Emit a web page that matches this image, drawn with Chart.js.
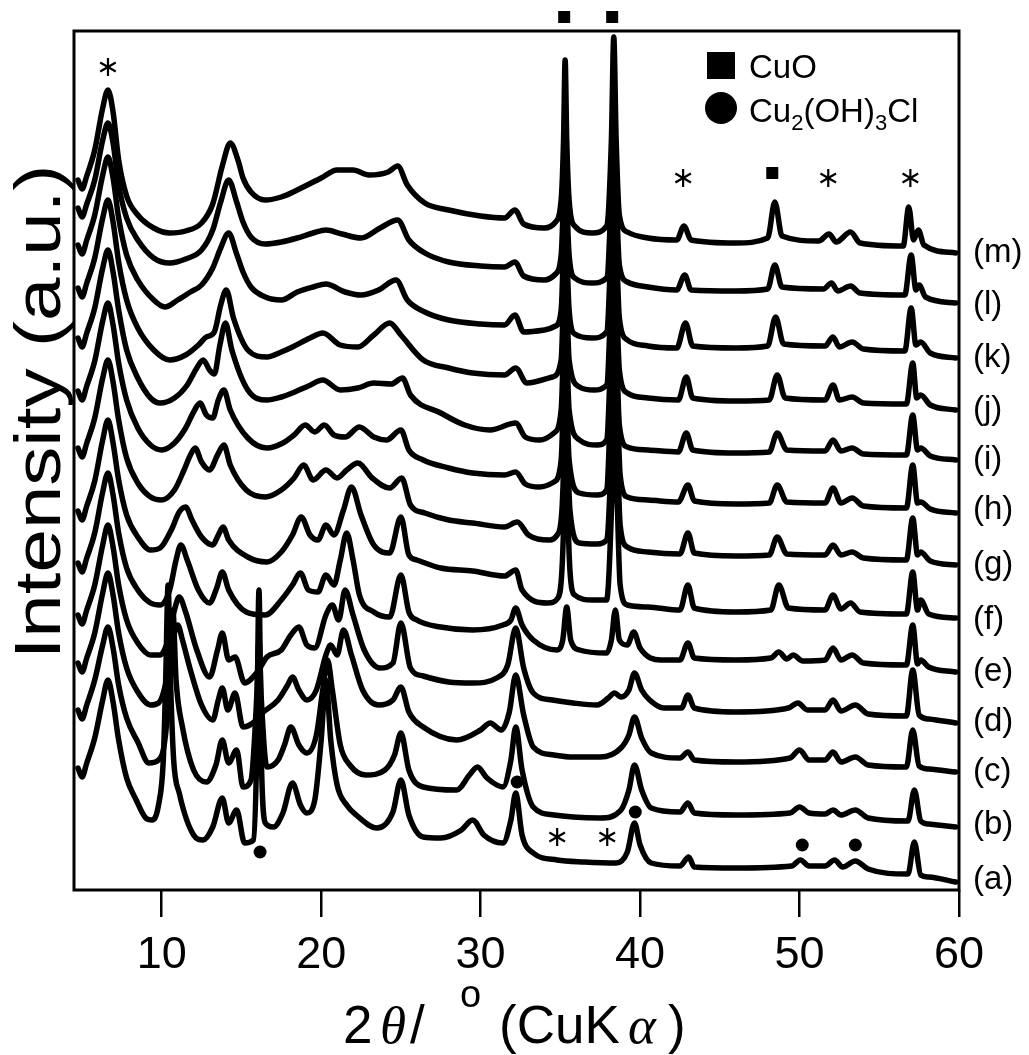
<!DOCTYPE html>
<html>
<head>
<meta charset="utf-8">
<script src="https://cdn.jsdelivr.net/npm/chart.js@4.4.1/dist/chart.umd.min.js"></script>
<style>
  html, body { margin: 0; padding: 0; background: #fff; }
  #c { display: block; }
</style>
</head>
<body>
<canvas id="c" width="1029" height="1055"></canvas>
<script>
// X-ray diffraction patterns (a)-(m), stacked; each entry is [2theta, intensity incl. stacking offset]
const trace_a = [[4.75,122],[5.0,113],[5.3,127],[5.8,152],[6.3,190],[6.63,210],[6.95,188],[7.3,150],[7.8,112],[8.4,90],[9.0,72],[9.4,70],[9.8,85],[10.1,130],[10.25,210],[10.4,305],[10.55,210],[10.75,130],[11.1,97],[12.0,55],[12.6,50],[13.2,63],[13.8,92],[14.2,67],[14.7,80],[15.2,47],[15.75,50],[15.95,130],[16.1,300],[16.25,130],[16.5,67],[17.0,63],[17.6,77],[18.2,107],[18.7,85],[19.1,77],[19.6,90],[20.0,150],[20.3,210],[20.6,150],[21.0,105],[21.6,85],[22.2,75],[23.5,62],[24.5,78],[25.0,110],[25.5,75],[26.4,53],[27.5,52],[28.8,60],[29.5,70],[30.2,55],[31.4,47],[31.9,70],[32.2,97],[32.6,55],[33.3,37],[34.8,30],[36.5,28],[38.5,27],[39.2,38],[39.65,67],[40.0,45],[40.7,27],[42.5,24],[43.05,33],[43.4,23],[46,22],[49.5,24],[50.05,30],[50.6,24],[51.6,24],[52.2,30],[52.7,23],[53.5,29],[54.3,21],[56.8,16],[57.2,48],[57.6,15],[58.1,13],[59.8,8]];
const trace_b = [[4.75,180],[5.0,171],[5.3,185],[5.8,210],[6.3,245],[6.63,263],[6.95,242],[7.3,205],[7.8,172],[8.5,148],[9.2,127],[9.8,130],[10.2,150],[10.5,210],[10.7,280],[10.9,210],[11.3,163],[12.0,120],[12.8,108],[13.4,125],[13.8,150],[14.2,127],[14.7,140],[15.1,103],[15.6,110],[15.95,190],[16.1,250],[16.25,190],[16.6,123],[17.3,130],[17.7,145],[18.1,163],[18.6,145],[19.1,137],[19.7,155],[20.1,200],[20.4,230],[20.7,200],[21.2,145],[21.8,125],[22.8,115],[24.0,120],[24.6,135],[25.0,157],[25.5,120],[26.4,103],[28.5,100],[29.3,115],[29.8,123],[30.4,112],[31.4,103],[31.9,130],[32.2,163],[32.6,120],[33.3,83],[34.6,75],[35.8,73],[37.5,72],[38.8,80],[39.3,100],[39.65,125],[40.1,100],[40.7,82],[42.5,78],[43.0,87],[43.4,77],[46,75],[49.4,77],[50.0,83],[50.6,77],[51.6,76],[52.1,80],[52.6,75],[53.5,80],[54.3,72],[56.8,69],[57.2,100],[57.6,69],[58.1,66],[59.8,63]];
const trace_c = [[4.75,227],[5.0,218],[5.3,232],[5.8,257],[6.3,297],[6.63,317],[6.95,295],[7.3,257],[7.8,222],[8.5,198],[9.3,185],[9.8,187],[10.3,210],[10.7,250],[11.0,265],[11.3,250],[11.8,220],[12.5,185],[13.2,170],[13.55,190],[13.8,202],[14.15,180],[14.6,197],[15.1,163],[15.8,168],[16.3,177],[17.3,190],[17.9,205],[18.2,213],[18.6,200],[19.1,190],[19.7,200],[20.3,235],[20.6,245],[21.0,235],[21.4,260],[21.9,235],[22.6,200],[23.6,185],[24.5,190],[25.0,203],[25.5,178],[26.4,163],[28.5,150],[30.0,160],[30.6,167],[31.3,160],[31.8,178],[32.2,215],[32.7,175],[33.3,143],[34.6,135],[35.8,133],[37.5,133],[38.8,142],[39.3,155],[39.65,173],[40.1,152],[40.7,137],[42.5,132],[43.0,138],[43.4,130],[46,128],[49.4,132],[50.0,140],[50.6,130],[51.6,130],[52.1,138],[52.6,128],[53.5,133],[54.3,125],[56.7,123],[57.1,160],[57.5,124],[58.1,121],[59.8,118]];
const trace_d = [[4.75,275],[5.0,266],[5.3,280],[5.8,305],[6.3,345],[6.63,365],[6.95,343],[7.3,305],[7.8,270],[8.5,247],[9.3,235],[9.9,235],[10.4,250],[10.8,280],[11.1,293],[11.5,278],[12.2,240],[13.0,213],[13.5,240],[13.8,257],[14.2,230],[14.6,233],[15.2,207],[16.0,218],[16.6,233],[17.5,240],[18.1,255],[18.6,263],[19.1,245],[19.6,242],[20.3,275],[20.7,285],[21.1,270],[21.5,300],[22.0,275],[22.7,240],[23.7,222],[24.5,227],[25.0,267],[25.6,222],[26.4,214],[28,208],[29.5,207],[31.0,212],[31.7,225],[32.2,262],[32.7,222],[33.3,197],[34.5,190],[35.8,187],[37.3,185],[38.0,192],[38.4,197],[38.8,193],[39.3,200],[39.65,217],[40.1,200],[40.6,190],[41.5,182],[42.6,182],[43.0,195],[43.4,182],[46,178],[49.3,182],[49.9,187],[50.5,180],[51.6,180],[52.1,190],[52.6,179],[53.5,185],[54.3,176],[56.7,174],[57.1,220],[57.5,175],[58.1,171],[59.8,167]];
const trace_e = [[4.75,327],[5.0,318],[5.3,332],[5.8,357],[6.3,398],[6.63,417],[6.95,395],[7.3,357],[7.8,322],[8.5,300],[9.3,287],[9.9,285],[10.5,300],[10.9,330],[11.2,345],[11.6,330],[12.3,300],[13.0,287],[13.45,302],[13.8,318],[14.2,300],[15.3,278],[16.5,275],[17.5,290],[18.2,305],[18.7,317],[19.2,300],[19.8,298],[20.3,315],[20.8,305],[21.2,330],[21.6,357],[22.0,330],[22.4,295],[23.3,278],[24.3,273],[25.0,315],[25.5,278],[26.0,270],[27.5,263],[29.5,260],[31.4,265],[31.9,270],[32.2,282],[32.6,265],[33.3,250],[34.8,240],[35.15,250],[35.4,283],[35.65,250],[36.2,240],[37.9,237],[38.2,250],[38.45,280],[38.7,250],[39.2,245],[39.6,258],[40.0,242],[41.3,230],[42.5,230],[43.0,247],[43.4,232],[46,230],[48.2,232],[48.7,238],[49.2,231],[49.6,235],[50.2,229],[51.6,230],[52.1,242],[52.6,230],[53.3,235],[54,227],[56.7,225],[57.1,265],[57.4,226],[57.6,230],[58.1,223],[59.8,218]];
const trace_f = [[4.75,379],[5.0,370],[5.3,384],[5.8,409],[6.3,450],[6.63,470],[6.95,447],[7.3,410],[7.8,375],[8.5,353],[9.3,340],[9.9,342],[10.6,360],[11.1,378],[11.5,383],[11.9,370],[12.5,353],[13.2,345],[13.55,355],[13.85,363],[14.2,350],[15.4,333],[16.6,328],[17.5,338],[18.2,355],[18.75,373],[19.3,355],[19.8,350],[20.3,365],[20.8,355],[21.4,380],[21.9,403],[22.5,375],[23.3,345],[24.3,337],[25.0,373],[25.5,335],[26.0,330],[27.5,322],[29.5,319],[31.5,314],[32.2,320],[32.6,300],[34.2,287],[34.85,292],[35.1,320],[35.25,390],[35.35,470],[35.45,390],[35.6,320],[35.9,295],[37,290],[37.9,290],[38.25,400],[38.4,490],[38.55,400],[38.75,305],[39.2,285],[40.5,283],[42.5,280],[43.0,305],[43.4,282],[46,278],[48.2,280],[48.7,305],[49.3,282],[51.6,280],[52.1,295],[52.6,281],[53.2,287],[53.8,278],[56.7,276],[57.1,318],[57.4,280],[57.6,290],[58.1,276],[59.8,272]];
const trace_g = [[4.75,442],[5.0,433],[5.3,447],[5.8,472],[6.3,512],[6.63,530],[6.95,508],[7.3,470],[7.8,432],[8.5,407],[9.3,393],[10.0,390],[10.8,400],[11.4,420],[11.8,435],[12.1,442],[12.5,428],[13.0,420],[13.5,435],[13.9,445],[14.3,425],[15.3,400],[16.5,393],[17.5,400],[18.3,412],[18.9,425],[19.5,410],[20.3,420],[21.0,412],[21.6,420],[22.3,427],[23.2,412],[24.3,402],[25.05,412],[25.6,385],[26.5,377],[28,370],[29.5,367],[31.5,363],[32.3,368],[33,355],[34.3,350],[34.8,355],[35.1,380],[35.25,450],[35.35,530],[35.45,450],[35.6,380],[36.2,347],[37.3,346],[37.9,350],[38.25,460],[38.4,545],[38.55,460],[38.75,365],[39.2,343],[40.5,338],[42.5,336],[43.0,357],[43.4,337],[46,334],[48.1,335],[48.6,353],[49.2,336],[51.6,335],[52.1,345],[52.6,335],[53.3,338],[54,332],[56.7,330],[57.1,372],[57.4,335],[57.6,338],[58.2,329],[59.8,325]];
const trace_h = [[4.75,499],[5.0,490],[5.3,504],[5.8,529],[6.3,569],[6.63,587],[6.95,565],[7.3,527],[7.8,490],[8.5,462],[9.3,445],[10.0,440],[10.8,447],[11.5,462],[12.0,478],[12.4,487],[12.8,475],[13.2,472],[13.55,490],[13.9,500],[14.3,480],[15.4,452],[16.6,442],[17.6,447],[18.3,455],[19.0,465],[19.6,458],[20.2,465],[20.8,455],[21.5,453],[22.4,463],[23.3,453],[24.1,450],[25.0,460],[25.5,440],[26.4,430],[28,422],[29.5,417],[31.5,415],[32.2,418],[32.8,406],[33.7,403],[34.6,408],[35.05,430],[35.2,500],[35.3,580],[35.4,500],[35.55,430],[36.2,397],[37.3,395],[37.9,400],[38.2,510],[38.4,600],[38.55,510],[38.75,415],[39.2,393],[40.5,390],[42.4,388],[43.0,405],[43.4,389],[46,386],[48.1,387],[48.6,405],[49.2,388],[51.6,387],[52.1,402],[52.6,387],[53.3,392],[54,384],[56.7,382],[57.1,425],[57.4,387],[57.6,388],[58.2,381],[59.8,377]];
const trace_i = [[4.75,552],[5.0,543],[5.3,557],[5.8,582],[6.3,622],[6.63,640],[6.95,618],[7.3,580],[7.8,540],[8.5,512],[9.3,492],[9.9,487],[10.8,492],[11.6,505],[12.2,522],[12.6,530],[13.0,520],[13.3,516],[13.65,545],[14.0,567],[14.4,540],[15.4,500],[16.6,490],[17.5,493],[18.2,497],[19.2,504],[20.1,510],[21.2,500],[22.3,502],[23.3,507],[24.4,506],[25.1,512],[25.6,495],[27.5,477],[29,465],[30.6,460],[32.2,467],[32.8,453],[33.7,450],[34.6,457],[35.05,480],[35.2,550],[35.3,630],[35.4,550],[35.55,480],[36.2,450],[37.3,445],[37.9,450],[38.2,560],[38.35,650],[38.5,560],[38.7,465],[39.2,443],[40.5,440],[42.4,438],[42.9,457],[43.3,440],[46,437],[48.1,438],[48.6,457],[49.2,440],[51.6,439],[52.1,450],[52.6,439],[53.3,442],[54,436],[56.7,435],[57.1,475],[57.4,440],[57.6,442],[58.2,434],[59.8,430]];
const trace_j = [[4.75,602],[5.0,593],[5.3,607],[5.8,632],[6.3,672],[6.63,690],[6.95,668],[7.3,628],[7.8,590],[8.5,562],[9.5,540],[10.5,530],[11.5,535],[12.3,545],[12.8,553],[13.3,558],[13.7,585],[14.05,600],[14.5,572],[15.4,540],[16.6,533],[17.5,538],[18.2,543],[19.3,552],[20.1,557],[21.2,545],[22.3,543],[23.3,555],[24.3,567],[25.0,555],[26.4,530],[28,522],[29.5,517],[31.5,515],[32.2,522],[32.9,507],[34.5,513],[35.05,530],[35.2,600],[35.3,680],[35.4,600],[35.55,530],[36.2,503],[37.1,500],[37.9,505],[38.2,610],[38.35,700],[38.5,610],[38.7,520],[39.2,497],[40.5,492],[42.4,490],[42.9,513],[43.3,492],[46,489],[48.1,490],[48.6,515],[49.1,492],[51.6,490],[52.1,505],[52.5,490],[53.3,493],[54,487],[56.7,486],[57.1,527],[57.35,492],[57.6,495],[58.2,485],[59.8,480]];
const trace_k = [[4.75,645],[5.0,636],[5.3,650],[5.8,675],[6.3,715],[6.63,733],[6.95,712],[7.3,672],[7.8,635],[8.5,610],[9.5,590],[10.2,583],[11,590],[11.8,598],[12.5,605],[13.2,622],[13.7,642],[14.2,657],[14.7,636],[15.1,618],[15.6,603],[16.5,593],[17.5,590],[18.5,598],[19.5,603],[20.3,606],[21.5,598],[22.5,595],[23.6,600],[24.7,610],[25.4,590],[26.5,578],[28,570],[30,566],[31.5,565],[32.15,575],[32.7,558],[34,560],[34.7,564],[35.05,580],[35.2,650],[35.3,735],[35.4,650],[35.55,580],[35.9,556],[37,552],[37.9,558],[38.2,660],[38.35,755],[38.5,660],[38.7,572],[39.2,550],[40.5,544],[42.3,542],[42.85,567],[43.3,544],[46,542],[48.0,544],[48.5,573],[49.0,546],[51.6,544],[52.1,553],[52.5,543],[53.3,548],[54,541],[56.6,539],[57.0,582],[57.3,545],[57.6,548],[58.2,537],[59.8,532]];
const trace_l = [[4.75,682],[5.0,673],[5.3,686],[5.8,710],[6.3,750],[6.63,767],[6.95,747],[7.3,705],[7.8,672],[8.5,650],[9.5,632],[10.5,627],[11.5,631],[12.5,640],[13.2,660],[13.7,688],[14.2,710],[14.7,688],[15.1,668],[15.6,653],[16.5,646],[17.5,648],[18.5,652],[19.5,657],[20.3,660],[21.3,656],[22.5,652],[23.7,662],[24.8,670],[25.5,650],[26.5,637],[28,628],[30,624],[31.5,623],[32.15,628],[32.7,614],[34,610],[34.7,616],[35.05,635],[35.2,700],[35.3,785],[35.4,700],[35.55,635],[35.9,612],[37,607],[37.9,612],[38.2,705],[38.35,805],[38.5,705],[38.7,625],[39.2,608],[40.5,603],[42.3,600],[42.8,615],[43.2,600],[46,599],[48.0,601],[48.45,625],[48.9,603],[51.5,601],[52.0,607],[52.4,599],[53.2,604],[53.8,597],[56.6,595],[57.0,635],[57.3,600],[57.5,605],[57.9,593],[59.8,587]];
const trace_m = [[4.75,710],[5.0,701],[5.3,714],[5.8,740],[6.3,782],[6.63,800],[6.95,778],[7.3,730],[7.8,694],[8.5,675],[9.5,662],[10.5,657],[11.5,659],[12.5,667],[13.2,686],[13.8,724],[14.3,747],[14.8,729],[15.1,712],[15.6,698],[16.5,690],[17.5,693],[18.5,700],[20,712],[21,720],[22,720],[23,715],[24.2,718],[24.8,724],[25.4,705],[26.5,687],[28,680],[30,674],[31.5,672],[32.15,680],[32.7,666],[34,662],[34.7,668],[35.05,690],[35.2,750],[35.3,830],[35.4,750],[35.55,690],[35.9,664],[37,657],[37.9,664],[38.2,750],[38.35,853],[38.5,750],[38.7,675],[39.2,658],[40.5,652],[42.3,650],[42.75,664],[43.2,650],[46,647],[48.0,652],[48.45,688],[48.9,654],[51.2,649],[51.85,656],[52.3,648],[53.2,658],[53.8,647],[56.5,644],[56.85,683],[57.15,650],[57.45,660],[57.8,645],[59.8,637]];

const traces = [trace_a, trace_b, trace_c, trace_d, trace_e, trace_f, trace_g, trace_h, trace_i, trace_j, trace_k, trace_l, trace_m];
const traceLabels = ['(a)','(b)','(c)','(d)','(e)','(f)','(g)','(h)','(i)','(j)','(k)','(l)','(m)'];
const labelLevels = [10, 65, 118, 168, 218, 270, 325, 380, 430, 480, 532, 585, 637];

const tickValues = [10, 20, 30, 40, 50, 60];
const xMin = 4.5, xMax = 60, yMax = 859;

// phase markers: [2theta, level]
const starMarks = [[6.63,823],[42.7,712],[51.8,712],[56.95,712],[34.8,53],[37.94,53]];
const squareMarks = [[35.24,873],[38.25,873],[48.29,717]];
const dotMarks = [[16.17,38],[32.29,108],[39.7,78],[50.17,45],[53.5,45]];

const SANS = "'Liberation Sans', Arial, sans-serif";
const SERIF = "'Liberation Serif', 'Times New Roman', serif";

function drawStar(ctx, cx, cy, r) {
  ctx.save();
  ctx.lineWidth = 2.2;
  ctx.lineCap = 'butt';
  ctx.strokeStyle = '#000';
  for (let k = 0; k < 3; k++) {
    const a = Math.PI / 2 + k * Math.PI / 3;
    ctx.beginPath();
    ctx.moveTo(cx + r * Math.cos(a), cy - r * Math.sin(a));
    ctx.lineTo(cx - r * Math.cos(a), cy + r * Math.sin(a));
    ctx.stroke();
  }
  ctx.restore();
}

function drawRuns(ctx, x, y, runs) {
  // runs: [text, font, dy]
  let cx = x;
  for (const [t, f, dy] of runs) {
    ctx.font = f;
    ctx.fillText(t, cx, y + dy);
    cx += ctx.measureText(t).width;
  }
}

const decorations = {
  id: 'decorations',
  beforeDatasetsDraw(chart) {
    const { ctx, chartArea: a } = chart;
    ctx.save();
    ctx.strokeStyle = '#000';
    ctx.lineWidth = 3;
    ctx.strokeRect(a.left, a.top, a.right - a.left, a.bottom - a.top);
    ctx.restore();
  },
  afterDatasetsDraw(chart) {
    const { ctx, scales: { x, y } } = chart;
    ctx.save();
    ctx.fillStyle = '#000';

    starMarks.forEach(([t, v]) => drawStar(ctx, x.getPixelForValue(t), y.getPixelForValue(v), 9));
    squareMarks.forEach(([t, v]) => {
      const px = x.getPixelForValue(t), py = y.getPixelForValue(v);
      ctx.fillRect(px - 6, py - 6, 12, 12);
    });
    dotMarks.forEach(([t, v]) => {
      ctx.beginPath();
      ctx.arc(x.getPixelForValue(t), y.getPixelForValue(v), 6.5, 0, Math.PI * 2);
      ctx.fill();
    });

    // legend
    ctx.fillRect(707, 52, 28, 27);
    ctx.beginPath();
    ctx.arc(721, 108, 16, 0, Math.PI * 2);
    ctx.fill();
    ctx.textBaseline = 'alphabetic';
    ctx.textAlign = 'left';
    ctx.font = '33px ' + SANS;
    ctx.fillText('CuO', 749, 78);
    drawRuns(ctx, 749, 122, [
      ['Cu', '33px ' + SANS, 0], ['2', '22px ' + SANS, 8],
      ['(OH)', '33px ' + SANS, 0], ['3', '22px ' + SANS, 8],
      ['Cl', '33px ' + SANS, 0]
    ]);

    // sample labels
    ctx.font = '33px ' + SANS;
    ctx.textBaseline = 'middle';
    traceLabels.forEach((s, i) => ctx.fillText(s, 973, y.getPixelForValue(labelLevels[i])));

    // y-axis title
    ctx.save();
    ctx.translate(60, 412);
    ctx.rotate(-Math.PI / 2);
    ctx.scale(1.22, 1);
    ctx.textAlign = 'center';
    ctx.textBaseline = 'alphabetic';
    ctx.font = '64px ' + SANS;
    ctx.fillText('Intensity (a.u.)', 0, 0);
    ctx.restore();

    // x-axis title
    ctx.textBaseline = 'alphabetic';
    ctx.textAlign = 'left';
    const base = 1043;
    ctx.font = '53px ' + SANS; ctx.fillText('2', 343, base);
    ctx.font = 'italic 53px ' + SERIF; ctx.fillText('\u03B8', 380, base);
    ctx.font = '53px ' + SANS; ctx.fillText('/', 410, base);
    ctx.font = '38px ' + SANS; ctx.fillText('o', 460, base - 36);
    ctx.font = '53px ' + SANS; ctx.fillText('(CuK', 499, base);
    ctx.font = 'italic 53px ' + SERIF; ctx.fillText('\u03B1', 628, base);
    ctx.font = '53px ' + SANS; ctx.fillText(')', 668, base);

    ctx.restore();
  }
};

new Chart(document.getElementById('c'), {
  type: 'line',
  data: {
    datasets: traces.map((tr, i) => ({
      label: traceLabels[i],
      data: tr.map(([t, v]) => ({ x: t, y: v })),
      borderColor: '#000',
      borderWidth: 5.5,
      borderJoinStyle: 'round',
      borderCapStyle: 'round',
      pointRadius: 0,
      fill: false,
      cubicInterpolationMode: 'monotone'
    }))
  },
  options: {
    responsive: false,
    animation: false,
    devicePixelRatio: 1,
    layout: { padding: { left: 74, right: 70, top: 31, bottom: 0 } },
    plugins: { legend: { display: false }, tooltip: { enabled: false } },
    scales: {
      x: {
        type: 'linear',
        min: xMin,
        max: xMax,
        afterBuildTicks(s) { s.ticks = tickValues.map(v => ({ value: v })); },
        afterFit(s) { s.height = 165; },
        ticks: { font: { family: SANS, size: 45 }, color: '#000', padding: 12, maxRotation: 0 },
        grid: { drawOnChartArea: false, drawTicks: true, tickLength: 27, color: '#000', lineWidth: 2.5 },
        border: { display: false }
      },
      y: { display: false, min: 0, max: yMax }
    }
  },
  plugins: [decorations]
});
</script>
</body>
</html>
